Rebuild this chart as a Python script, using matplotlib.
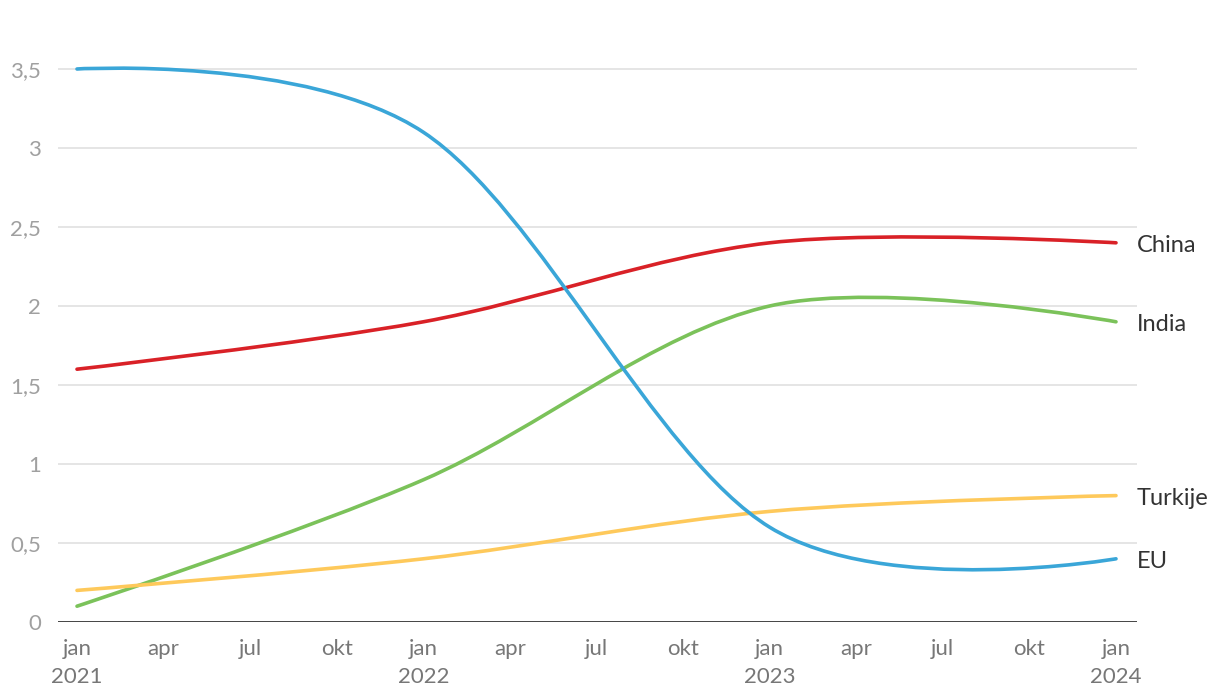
import numpy as np
import matplotlib
matplotlib.use("Agg")
import matplotlib.pyplot as plt
from matplotlib.path import Path
from matplotlib.patches import PathPatch
from matplotlib.transforms import offset_copy

# ---- data ----
months = [0, 12, 24, 36]          # jan 2021, jan 2022, jan 2023, jan 2024
series_names = ["China", "India", "Turkije", "EU"]
china = [1.6, 1.9, 2.4, 2.4]
india = [0.1, 0.9, 2.0, 1.9]
turkije = [0.2, 0.4, 0.7, 0.8]
eu = [3.5, 3.1, 0.6, 0.4]
colors = ["#d92127", "#7bc25a", "#fec95b", "#3aa6d8"]

yticks = [0, 0.5, 1, 1.5, 2, 2.5, 3, 3.5]
ytick_labels = ["0", "0,5", "1", "1,5", "2", "2,5", "3", "3,5"]
xtick_pos = [0, 3, 6, 9, 12, 15, 18, 21, 24, 27, 30, 33, 36]
xtick_labels = ["jan\n2021", "apr", "jul", "okt", "jan\n2022", "apr", "jul", "okt",
                "jan\n2023", "apr", "jul", "okt", "jan\n2024"]

plt.rcParams['font.family'] = ['Lato', 'DejaVu Sans']

W, H = 1220, 698
fig = plt.figure(figsize=(W / 100, H / 100), dpi=100)
left_px, right_px = 58, 1137
bottom_px, top_px = 622, 37
ax = fig.add_axes([left_px / W, 1 - bottom_px / H, (right_px - left_px) / W, (bottom_px - top_px) / H])

x0px, x1px = 77, 1116
ppm = (x1px - x0px) / 36.0
xmin = -(x0px - left_px) / ppm
xmax = 36 + (right_px - x1px) / ppm
ppu = 158.0
ymax = (bottom_px - top_px) / ppu
ax.set_xlim(xmin, xmax)
ax.set_ylim(0, ymax)

# uniform Catmull-Rom curve, endpoint control points at the endpoints
def catmull_path(xs, ys):
    pts = [np.array([x, y], dtype=float) for x, y in zip(xs, ys)]
    n = len(pts)
    verts = [tuple(pts[0])]
    codes = [Path.MOVETO]
    for i in range(n - 1):
        p1, p2 = pts[i], pts[i + 1]
        c1 = p1 if i == 0 else p1 + (p2 - pts[i - 1]) / 6.0
        c2 = p2 if i == n - 2 else p2 - (pts[i + 2] - p1) / 6.0
        verts += [tuple(c1), tuple(c2), tuple(p2)]
        codes += [Path.CURVE4] * 3
    return Path(verts, codes)

# gridlines
for yt in yticks[1:]:
    ax.axhline(yt, color="#e3e3e3", lw=1.3, zorder=0)
ax.axhline(0, color="#333333", lw=2.0, zorder=3)

all_series = [china, india, turkije, eu]
lbl_tr = offset_copy(ax.transData, fig=fig, x=0, y=-3, units="dots")
for name, vals, c in zip(series_names, all_series, colors):
    patch = PathPatch(catmull_path(months, vals), facecolor="none", edgecolor=c,
                      lw=2.6, capstyle="round", joinstyle="round", zorder=5)
    patch.set_clip_on(False)
    ax.add_patch(patch)
    ax.text(xmax, vals[-1], name, ha="left", va="center", fontsize=17,
            color="#333333", transform=lbl_tr, clip_on=False)

for s in ax.spines.values():
    s.set_visible(False)
ax.set_yticks(yticks)
ax.set_yticklabels(ytick_labels)
ax.set_xticks(xtick_pos)
ax.set_xticklabels(xtick_labels, linespacing=1.55)
ax.tick_params(axis="y", length=0, pad=12, labelsize=16, labelcolor="#a0a0a0")
ax.tick_params(axis="x", length=0, pad=12, labelsize=16, labelcolor="#777777")
for lbl in ax.get_xticklabels():
    lbl.set_verticalalignment("top")

fig.savefig("out.png", dpi=100, facecolor="white")
